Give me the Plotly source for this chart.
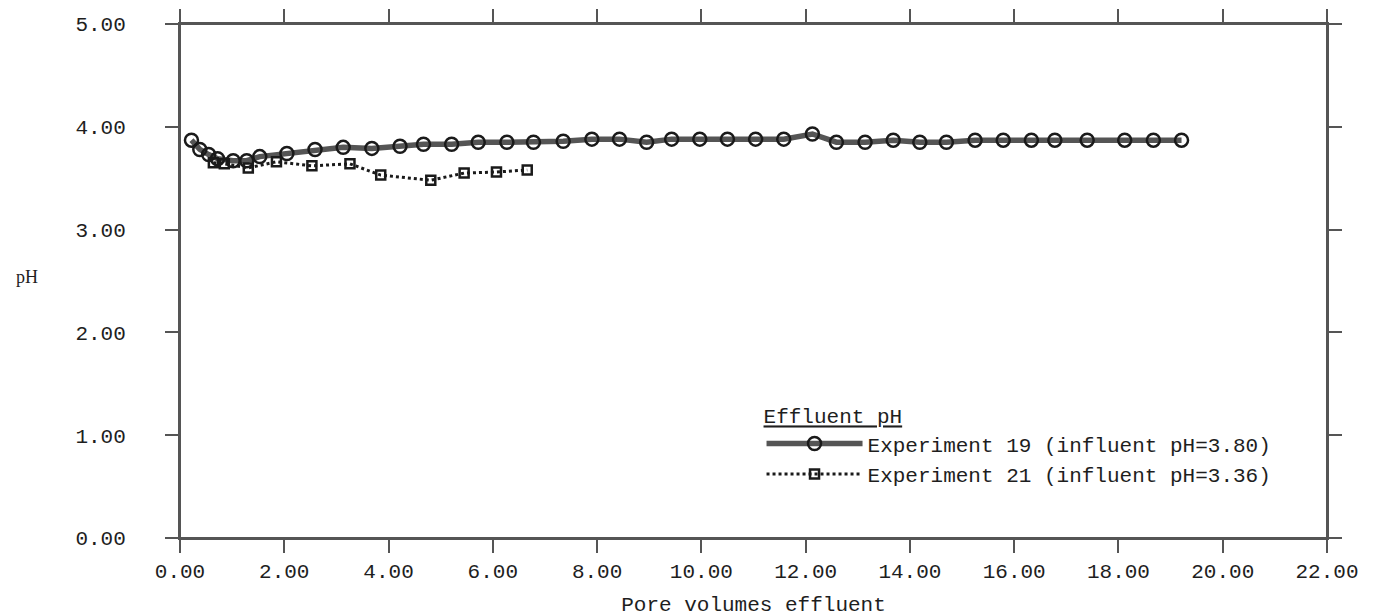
import plotly.graph_objects as go

# Experiment 19 (influent pH = 3.80)
exp19_x = [0.22, 0.38, 0.55, 0.72, 1.02, 1.28, 1.53, 2.05, 2.59, 3.13, 3.68, 4.22, 4.67,
           5.21, 5.72, 6.27, 6.78, 7.35, 7.90, 8.43, 8.95, 9.43, 9.97, 10.50, 11.04, 11.58,
           12.13, 12.59, 13.14, 13.68, 14.19, 14.70, 15.25, 15.79, 16.33, 16.78, 17.40,
           18.12, 18.67, 19.21]
exp19_y = [3.87, 3.78, 3.73, 3.69, 3.67, 3.67, 3.71, 3.74, 3.78, 3.80, 3.79, 3.81, 3.83,
           3.83, 3.85, 3.85, 3.85, 3.86, 3.88, 3.88, 3.85, 3.88, 3.88, 3.88, 3.88, 3.88,
           3.93, 3.85, 3.85, 3.87, 3.85, 3.85, 3.87, 3.87, 3.87, 3.87, 3.87,
           3.87, 3.87, 3.87]

# Experiment 21 (influent pH = 3.36)
exp21_x = [0.64, 0.85, 1.31, 1.85, 2.53, 3.26, 3.85, 4.81, 5.45, 6.07, 6.66]
exp21_y = [3.65, 3.64, 3.60, 3.66, 3.62, 3.64, 3.53, 3.48, 3.55, 3.56, 3.58]

x_ticks = [0, 2, 4, 6, 8, 10, 12, 14, 16, 18, 20, 22]
x_tick_labels = ["0.00", "2.00", "4.00", "6.00", "8.00", "10.00", "12.00", "14.00",
                 "16.00", "18.00", "20.00", "22.00"]
y_ticks = [0, 1, 2, 3, 4, 5]
y_tick_labels = ["0.00", "1.00", "2.00", "3.00", "4.00", "5.00"]

FONT = "Liberation Mono, Courier New, monospace"
INK = "#1e1e1e"
AXIS = "#555555"
FS = 21

fig = go.Figure()
fig.add_trace(go.Scatter(
    x=exp19_x, y=exp19_y, mode="lines+markers",
    name="Experiment 19 (influent pH=3.80)",
    line=dict(color="#555555", width=5.5),
    marker=dict(symbol="circle-open", size=13, color="#1a1a1a", line=dict(width=2.5, color="#1a1a1a")),
))
fig.add_trace(go.Scatter(
    x=exp21_x, y=exp21_y, mode="lines+markers",
    name="Experiment 21 (influent pH=3.36)",
    line=dict(color="#1a1a1a", width=3, dash="dot"),
    marker=dict(symbol="square-open", size=9, color="#1a1a1a", line=dict(width=2.5, color="#1a1a1a")),
))

axis_common = dict(
    showline=True, linecolor=AXIS, linewidth=2, mirror="ticks",
    ticks="outside", ticklen=13, tickwidth=1.5, tickcolor=AXIS,
    showgrid=False, zeroline=False, automargin=False,
    tickfont=dict(family=FONT, size=FS, color=INK),
)

fig.update_layout(
    width=1380, height=615,
    margin=dict(l=172, r=61, t=16, b=85),
    paper_bgcolor="white", plot_bgcolor="white",
    font=dict(family=FONT, size=FS, color=INK),
    xaxis=dict(range=[0, 22], tickvals=x_ticks, ticktext=x_tick_labels,
               title=dict(text="Pore volumes effluent", font=dict(family=FONT, size=FS, color=INK), standoff=13),
               **axis_common),
    yaxis=dict(range=[0, 5], tickvals=y_ticks, ticktext=y_tick_labels,
               ticklabelstandoff=35, title=dict(text=""), **axis_common),
    showlegend=True,
    legend=dict(
        x=0.507, y=0.276, xanchor="left", yanchor="top",
        bgcolor="rgba(0,0,0,0)", borderwidth=0,
        font=dict(family=FONT, size=FS, color=INK),
        title=dict(text="<u>Effluent pH</u>", font=dict(family=FONT, size=FS, color=INK)),
        itemwidth=96, tracegroupgap=0,
    ),
)

# slight overshoot of the frame lines, as in the original plot
frame = dict(color=AXIS, width=2)
fig.add_shape(type="line", xref="paper", yref="y", x0=-0.013, x1=1.01, y0=5, y1=5, line=frame, layer="below")
fig.add_shape(type="line", xref="paper", yref="y", x0=-0.011, x1=1.01, y0=0, y1=0, line=frame, layer="below")
fig.add_shape(type="line", xref="x", yref="paper", x0=0, x1=0, y0=0, y1=1.027, line=frame, layer="below")
fig.add_shape(type="line", xref="x", yref="paper", x0=22, x1=22, y0=0, y1=1.025, line=frame, layer="below")

fig.add_annotation(
    text="pH", xref="paper", yref="paper", x=-0.133, y=0.508,
    xanchor="center", yanchor="middle", showarrow=False,
    font=dict(family="Liberation Serif, serif", size=18, color=INK),
)

fig.write_html("out.html")
